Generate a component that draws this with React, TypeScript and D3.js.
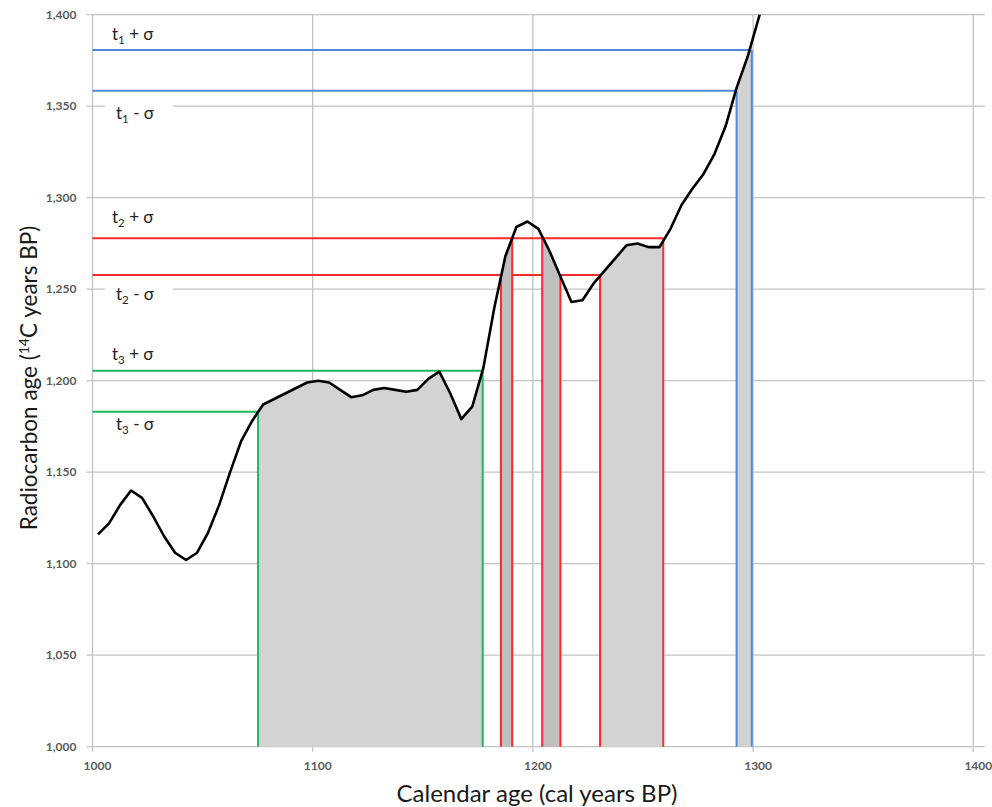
import React from 'react';
import * as d3 from 'd3';

// Calibration curve (cal years BP vs 14C years BP)
const calYears = [
  1002.5, 1007.5, 1012.5, 1017.5, 1022.5, 1027.5, 1032.5, 1037.5, 1042.5, 1047.5,
  1052.5, 1057.5, 1062.5, 1067.5, 1072.5, 1077.5, 1082.5, 1087.5, 1092.5, 1097.5,
  1102.5, 1107.5, 1112.5, 1117.5, 1122.5, 1127.5, 1132.5, 1137.5, 1142.5, 1147.5,
  1152.5, 1157.5, 1162.5, 1167.5, 1172.5, 1177.5, 1182.5, 1187.5, 1192.5, 1197.5,
  1202.5, 1207.5, 1212.5, 1217.5, 1222.5, 1227.5, 1232.5, 1237.5, 1242.5, 1247.5,
  1252.5, 1257.5, 1262.5, 1267.5, 1272.5, 1277.5, 1282.5, 1287.5, 1292.5, 1297.5,
  1302.5, 1307.5,
];
const c14Ages = [
  1116, 1122, 1132, 1140, 1136, 1126, 1115, 1106, 1102, 1106,
  1117, 1132, 1150, 1167, 1178, 1187, 1190, 1193, 1196, 1199,
  1200, 1199, 1195, 1191, 1192, 1195, 1196, 1195, 1194, 1195,
  1201, 1205, 1193, 1179, 1186, 1207, 1240, 1268, 1284, 1287,
  1283, 1271, 1257, 1243, 1244, 1253, 1260, 1267, 1274, 1275,
  1273, 1273, 1283, 1296, 1305, 1313, 1324, 1339, 1360, 1377,
  1398, 1420,
];

const xTicks = [1000, 1100, 1200, 1300, 1400];
const yTicks = [1000, 1050, 1100, 1150, 1200, 1250, 1300, 1350, 1400];

// Sigma bounds [t - σ, t + σ] and resulting calendar ranges
const t1Bounds = [1358.5, 1380.7];
const t2Bounds = [1257.8, 1277.8];
const t3Bounds = [1183, 1205.5];
const t1Ranges = [[1292.5, 1299.4]];
const t2Ranges = [[1185.5, 1190.6], [1204.2, 1212.5], [1230.5, 1259.2]];
const t3Ranges = [[1075.2, 1177.2]];

const groups = [
  { name: '1', bounds: t1Bounds, ranges: t1Ranges, color: '#5089d6', fills: ['#d2d2d2'] },
  { name: '2', bounds: t2Bounds, ranges: t2Ranges, color: '#ff2a2a', fills: ['#bfbfbf', '#bfbfbf', '#d3d3d3'] },
  { name: '3', bounds: t3Bounds, ranges: t3Ranges, color: '#22b35e', fills: ['#d3d3d3'] },
];

// layout
const W = 992, H = 807;
const plotLeft = 92.5, plotRightTick = 973.3, plotRightEdge = 985;
const plotBottom = 746.7, plotTop = 14.7;
const labelX = [112, 116];
const labelDyPlus = [-10, -15, -11];
const labelDyMinus = [28, 25, 18];

const FONT = "Lato, 'Open Sans', 'DejaVu Sans', sans-serif";

export default function App() {
  const x = d3.scaleLinear().domain([1000, 1400]).range([plotLeft, plotRightTick]);
  const y = d3.scaleLinear().domain([1000, 1400]).range([plotBottom, plotTop]);

  const pts: [number, number][] = calYears.map((yr, i) => [yr, c14Ages[i]]);
  const bis = d3.bisector((d: [number, number]) => d[0]).left;
  const curveAt = (yr: number) => {
    const i = Math.max(1, Math.min(pts.length - 1, bis(pts, yr)));
    const a = pts[i - 1], b = pts[i];
    const t = (yr - a[0]) / (b[0] - a[0]);
    return a[1] + t * (b[1] - a[1]);
  };

  const line = d3.line<[number, number]>().x(d => x(d[0])).y(d => y(d[1]));
  const area = d3.area<[number, number]>().x(d => x(d[0])).y0(y(1000)).y1(d => y(d[1]));

  const rangePoly = (a: number, b: number): [number, number][] => [
    [a, curveAt(a)],
    ...pts.filter(p => p[0] > a && p[0] < b),
    [b, curveAt(b)],
  ];

  const nearestBound = (yr: number, bounds: number[]) => {
    const v = curveAt(yr);
    return Math.abs(v - bounds[0]) < Math.abs(v - bounds[1]) ? 0 : 1;
  };

  return (
    <svg width={W} height={H} style={{ position: 'absolute', left: 0, top: 0, display: 'block', background: '#fff' }}>
      <defs>
        <clipPath id="plotClip">
          <rect x={plotLeft} y={plotTop} width={plotRightEdge - plotLeft} height={plotBottom - plotTop} />
        </clipPath>
      </defs>
      <rect x={0} y={0} width={W} height={H} fill="#fff" />

      {/* gridlines */}
      <g stroke="#c3c3c3" strokeWidth={1.3}>
        {yTicks.map(t => (
          <line key={'gy' + t} x1={plotLeft - 6} x2={plotRightEdge} y1={y(t)} y2={y(t)} />
        ))}
        {xTicks.map(t => (
          <line key={'gx' + t} x1={x(t)} x2={x(t)} y1={plotTop} y2={plotBottom + 5} />
        ))}
      </g>

      {/* tick labels */}
      <g fontFamily={FONT} fontSize={12} fontWeight={700} fill="#5a5a5a">
        {yTicks.map(t => (
          <text key={'ty' + t} x={plotLeft - 16} y={y(t)} dy="0.35em" textAnchor="end">
            {d3.format(',')(t)}
          </text>
        ))}
        {xTicks.map(t => (
          <text key={'tx' + t} x={x(t) + 5} y={plotBottom + 23} textAnchor="middle">
            {t}
          </text>
        ))}
      </g>

      {/* horizontal sigma lines */}
      {groups.map(g =>
        g.bounds.map((bv, bi) => {
          const ends = g.ranges.flat().filter(e => nearestBound(e, g.bounds) === bi);
          const xe = d3.max(ends) as number;
          return (
            <line key={'h' + g.name + bi} x1={plotLeft} x2={x(xe)} y1={y(bv)} y2={y(bv)}
              stroke={g.color} strokeWidth={2} />
          );
        })
      )}

      {/* shaded ranges */}
      {groups.map(g =>
        g.ranges.map((r, ri) => (
          <path key={'f' + g.name + ri} d={area(rangePoly(r[0], r[1])) as string}
            fill={g.fills[ri]} stroke="none" />
        ))
      )}

      {/* vertical range lines */}
      {groups.map(g =>
        g.ranges.flat().map((e, ei) => {
          const bv = g.bounds[nearestBound(e, g.bounds)];
          return (
            <line key={'v' + g.name + ei} x1={x(e)} x2={x(e)} y1={y(bv)} y2={y(1000)}
              stroke={g.color} strokeWidth={2} />
          );
        })
      )}

      {/* calibration curve */}
      <path d={line(pts) as string} fill="none" stroke="#000" strokeWidth={2.6}
        strokeLinejoin="round" clipPath="url(#plotClip)" />

      {/* sigma labels */}
      <g fontFamily={FONT} fontSize={17} fill="#222">
        {groups.map((g, gi) => (
          <g key={'lab' + g.name}>
            {[1, 0].map(bi => {
              const lx = labelX[bi === 1 ? 0 : 1];
              const ly = y(g.bounds[bi]) + (bi === 1 ? labelDyPlus[gi] : labelDyMinus[gi]);
              return (
                <g key={bi}>
                  {bi === 0 && <rect x={lx - 11} y={ly - 15} width={68} height={21} fill="#fff" />}
                  <text x={lx} y={ly}>
                    <tspan>t</tspan>
                    <tspan fontSize={11.5} dy={4}>{g.name}</tspan>
                    <tspan dy={-4}>{bi === 1 ? ' + σ' : ' - σ'}</tspan>
                  </text>
                </g>
              );
            })}
          </g>
        ))}
      </g>

      {/* axis titles */}
      <text x={537} y={802} textAnchor="middle" fontFamily={FONT} fontSize={24} fill="#1a1a1a">
        Calendar age (cal years BP)
      </text>
      <text transform={`translate(37, 378) rotate(-90)`} textAnchor="middle"
        fontFamily={FONT} fontSize={22.5} fill="#1a1a1a">
        Radiocarbon age (<tspan fontSize={14} dy={-8}>14</tspan><tspan dy={8}>C years BP)</tspan>
      </text>
    </svg>
  );
}
